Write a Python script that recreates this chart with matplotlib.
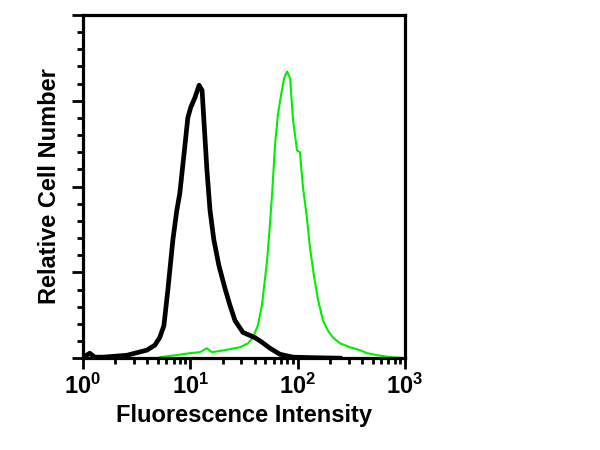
import matplotlib
matplotlib.use('Agg')
import matplotlib.pyplot as plt
from matplotlib.ticker import FixedLocator, LogLocator, FuncFormatter, NullFormatter
import numpy as np

plt.rcParams['font.family'] = ['Liberation Sans', 'DejaVu Sans']
plt.rcParams['font.weight'] = 'bold'
plt.rcParams['mathtext.fontset'] = 'custom'
plt.rcParams['mathtext.rm'] = 'Liberation Sans:bold'
plt.rcParams['mathtext.bf'] = 'Liberation Sans:bold'

# control (isotype) histogram - black
ctrl_x = [1.02, 1.16, 1.29, 1.54, 2.57, 3.95, 4.69, 5.22, 5.69, 6.2, 6.9, 7.5, 8.0, 8.9,
          9.5, 10.1, 11.1, 12.1, 12.9, 13.4, 14.3, 15.3, 16.6, 18.5, 21.0, 23.4, 26.1,
          31.0, 40.1, 46.6, 55.3, 68.5, 90.6, 138, 248]
ctrl_y = [0.6, 2.9, 0.6, 0.6, 1.7, 4.7, 7.6, 12.2, 19, 40, 69, 86, 96, 123,
          140, 146, 152, 159, 156, 139, 110, 86, 69, 54, 41, 31, 22,
          15, 12, 9.3, 5.8, 2.3, 0.6, 0.3, 0]

# stained sample histogram - green
stain_x = [5.22, 7.2, 9.9, 12.3, 14.3, 15.9, 21, 29, 34.6, 38.5, 42.6, 46.6, 52, 55.3,
           57.9, 61.8, 65.6, 70.0, 74.8, 79.8, 85.2, 90.6, 98.8, 105, 112, 122, 130,
           142, 155, 172, 192, 214, 248, 307, 381, 444, 562, 728, 902]
stain_y = [0.6, 1.7, 2.9, 3.5, 5.8, 3.5, 4.7, 6.4, 8.7, 12.2, 19, 31, 57, 78,
           96, 125, 142, 153, 163, 167, 163, 139, 121, 120, 100, 82, 65,
           48, 34, 22, 16, 12, 8.7, 6.4, 4.7, 2.9, 1.7, 0.6, 0.3]

fig = plt.figure(figsize=(6, 4.5), dpi=100)
ax = fig.add_axes([0.138, 0.204, 0.537, 0.763])

ax.plot(stain_x, stain_y, color='#00ee00', linewidth=1.5, zorder=2)
ax.plot(ctrl_x, ctrl_y, color='black', linewidth=3.4, zorder=3)

ax.set_xscale('log')
ax.set_xlim(1, 1000)
ax.set_ylim(0, 200)

ax.xaxis.set_major_locator(FixedLocator([1, 10, 100, 1000]))
ax.xaxis.set_minor_locator(LogLocator(base=10, subs=np.arange(2, 10)))
ax.xaxis.set_major_formatter(FuncFormatter(lambda v, p: r'$\mathbf{10^{%d}}$' % round(np.log10(v))))
ax.xaxis.set_minor_formatter(NullFormatter())

ax.yaxis.set_major_locator(FixedLocator([0, 50, 100, 150, 200]))
ax.yaxis.set_minor_locator(FixedLocator(np.arange(0, 201, 10)))
ax.set_yticklabels([])

ax.tick_params(axis='both', which='major', direction='out', length=8, width=2)
ax.tick_params(axis='both', which='minor', direction='out', length=4, width=2)
ax.tick_params(axis='x', labelsize=17, pad=3)
ax.tick_params(right=False, top=False)

for s in ax.spines.values():
    s.set_linewidth(2.3)

ax.set_xlabel('Fluorescence Intensity', fontsize=17, fontweight='bold', labelpad=4)
ax.set_ylabel('Relative Cell Number', fontsize=17, fontweight='bold', labelpad=4)

fig.savefig('out.png', dpi=100)
